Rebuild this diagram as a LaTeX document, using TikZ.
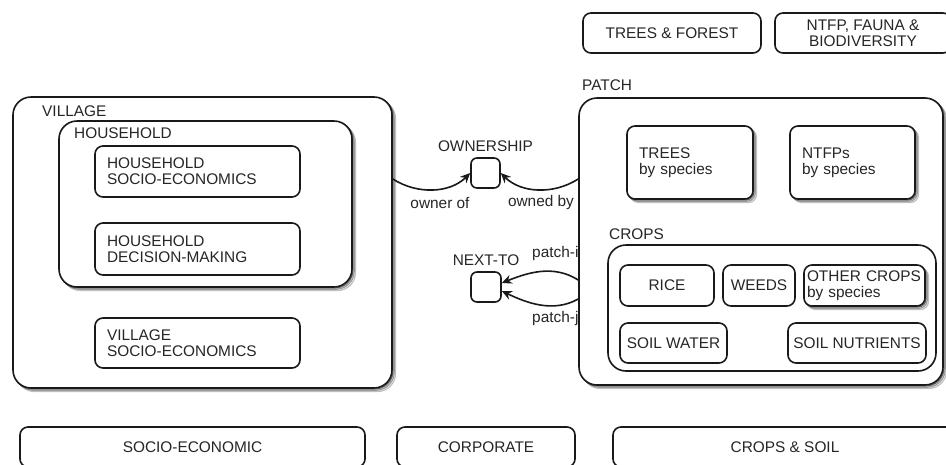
\documentclass[tikz,border=0pt]{standalone}
\usepackage{fontspec}
\setmainfont{Liberation Sans}
\usetikzlibrary{arrows.meta,positioning}

\tikzset{
  box/.style={draw=black!90, line width=1.6pt, rounded corners=8pt, fill=white, inner sep=0pt},
  bigbox/.style={box, rounded corners=18pt},
  leftbox/.style={box, align=left, inner xsep=12pt},
  stackbox/.style={
    preaction={draw=black!25, fill=white, line width=1.2pt, transform canvas={shift={(3.5pt,-3.5pt)}}},
    preaction={draw=black!40, fill=white, line width=1.2pt, transform canvas={shift={(2.2pt,-2.2pt)}}},
    preaction={draw=black!60, fill=white, line width=1.2pt, transform canvas={shift={(1pt,-1pt)}}}},
  tag/.style={inner sep=0pt, anchor=west, text=black!85},
  rel/.style={line width=1.6pt, draw=black!90, -{Stealth[length=10pt,width=9pt]}},
}

\begin{document}
\begin{tikzpicture}[x=1pt, y=-1pt, font=\fontsize{15.4}{16}\selectfont, text=black!85]
  \useasboundingbox (0,0) rectangle (946,464);

  \node[tag] (lbl-pi) at (532,254) {patch-i};
  \node[tag] (lbl-pj) at (532,319) {patch-j};

  % village
  \node[bigbox, stackbox, minimum width=379pt, minimum height=291pt] (village) at (202.5,242.5) {};
  \node[tag] (lbl-village) at (42,111) {VILLAGE};
  \node[bigbox, stackbox, minimum width=293pt, minimum height=166pt] (household) at (205.5,204) {};
  \node[tag] (lbl-household) at (74,133) {HOUSEHOLD};
  \node[leftbox, text width=181pt, minimum height=51pt] (hhsocio) at (197.5,171.5) {HOUSEHOLD\\SOCIO-ECONOMICS};
  \node[leftbox, text width=181pt, minimum height=52pt] (hhdecision) at (197.5,249) {HOUSEHOLD\\DECISION-MAKING};
  \node[leftbox, text width=181pt, minimum height=50pt] (villsocio) at (197.5,343) {VILLAGE\\SOCIO-ECONOMICS};

  % patch
  \node[tag] (lbl-patch) at (582,85) {PATCH};
  \node[bigbox, stackbox, minimum width=364pt, minimum height=287pt] (patch) at (761,241.5) {};
  \node[leftbox, stackbox, text width=102pt, minimum height=73pt] (trees) at (690,162.5) {TREES\\by species};
  \node[leftbox, stackbox, text width=101pt, minimum height=73pt] (ntfps) at (852.5,162.5) {NTFPs\\by species};
  \node[tag] (lbl-crops) at (609,234) {CROPS};
  \node[bigbox, minimum width=328pt, minimum height=126pt] (crops) at (772,308) {};
  \node[box, minimum width=94pt, minimum height=41pt] (rice) at (667,285.5) {RICE};
  \node[box, minimum width=72pt, minimum height=41pt] (weeds) at (759,285.5) {WEEDS};
  \node[leftbox, stackbox, inner xsep=3pt, text width=115pt, minimum height=41pt] (othercrops) at (864.5,285.5) {OTHER CROPS\\by species};
  \node[box, minimum width=107pt, minimum height=40pt] (soilwater) at (673.5,343) {SOIL WATER};
  \node[box, minimum width=138pt, minimum height=40pt] (soilnutrients) at (857,343) {SOIL NUTRIENTS};

  % relations
  \node[box, rounded corners=6pt, minimum width=29pt, minimum height=30pt] (ownership) at (485.5,173) {};
  \node[above=5pt of ownership, inner sep=0pt] (lbl-ownership) {OWNERSHIP};
  \node[box, rounded corners=6pt, minimum width=30pt, minimum height=30pt] (nextto) at (486,287) {};
  \node[above=5pt of nextto, inner sep=0pt] (lbl-nextto) {NEXT-TO};
  \node[inner sep=0pt] (lbl-ownerof) at (440,203) {owner of};
  \node[inner sep=0pt] (lbl-ownedby) at (541,203) {owned by};

  \draw[rel] ([yshift=-6pt]village.east |- ownership) .. controls +(25,16) and +(-20,20) .. (ownership.west);
  \draw[rel] ([yshift=-6pt]patch.west |- ownership) .. controls +(-25,16) and +(20,20) .. (ownership.east);
  \draw[rel] ([yshift=7pt]patch.west |- nextto) .. controls +(-25,-16) and +(25,-10) .. ([yshift=4pt]nextto.east);
  \draw[rel] ([yshift=-12pt]patch.west |- nextto) .. controls +(-25,14) and +(25,12) .. ([yshift=-4pt]nextto.east);

  % top and bottom rows
  \node[box, minimum width=178pt, minimum height=40pt] (treesforest) at (672,33) {TREES \& FOREST};
  \node[box, align=center, minimum width=176pt, minimum height=40pt] (ntfpfauna) at (863,33) {NTFP, FAUNA \&\\BIODIVERSITY};
  \node[box, minimum width=345pt, minimum height=40pt] (socioeco) at (192.5,447) {SOCIO-ECONOMIC};
  \node[box, minimum width=178pt, minimum height=40pt] (corporate) at (486,447) {CORPORATE};
  \node[box, minimum width=344pt, minimum height=40pt] (cropssoil) at (785,447) {CROPS \& SOIL};
\end{tikzpicture}
\end{document}
